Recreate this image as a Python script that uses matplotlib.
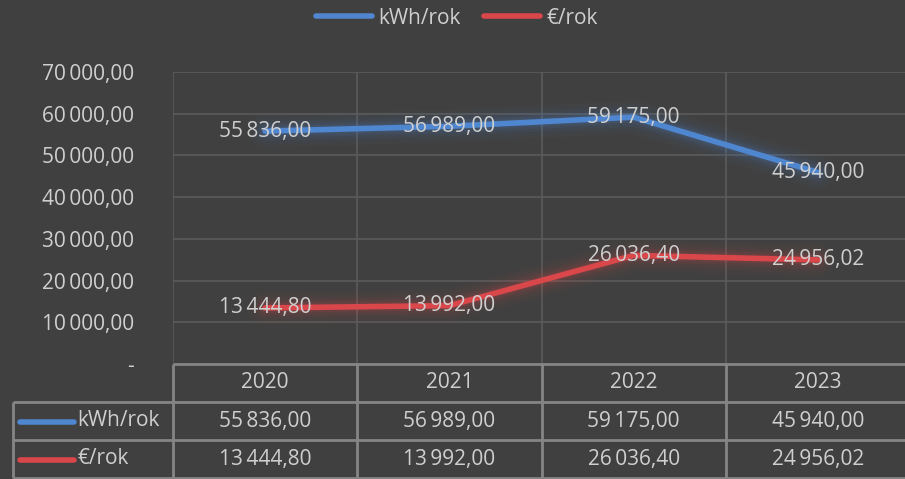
import matplotlib
matplotlib.use("Agg")
import matplotlib.pyplot as plt
from matplotlib.lines import Line2D

years = ["2020", "2021", "2022", "2023"]
kwh = [55836.00, 56989.00, 59175.00, 45940.00]
eur = [13444.80, 13992.00, 26036.40, 24956.02]
series_names = ["kWh/rok", "€/rok"]
yticks = [0, 10000, 20000, 30000, 40000, 50000, 60000, 70000]

BG = "#404040"
TXT = "#cfcfcf"
GRID = "#5b5b5b"
BORDER = "#858585"
BLUE = "#4f86d0"
RED = "#d9474a"
FONT = "Open Sans"
FS = 15

W, H = 905, 479


def fmt(v):
    # thousands separated by a thin space, decimal comma
    return f"{v:,.2f}".replace(",", "\u2009").replace(".", ",")


def fx(px):
    return px / W


def fy(py):
    return 1 - py / H


fig = plt.figure(figsize=(W / 100, H / 100), dpi=100, facecolor=BG)
plt.rcParams["font.family"] = [FONT, "DejaVu Sans"]

# plot area: x 173..910 px, y 72..364 px
left, right, top, bottom = 173, 910, 72, 364
ax = fig.add_axes([fx(left), fy(bottom), fx(right - left), (bottom - top) / H])
ax.set_facecolor(BG)
x = list(range(len(years)))
ax.set_xlim(-0.5, len(years) - 0.5)
ax.set_ylim(0, 70000)

for xv in [-0.5, 0.5, 1.5, 2.5, 3.5]:
    ax.axvline(xv, color=GRID, lw=1.2, zorder=1)
for yv in yticks[1:]:
    ax.axhline(yv, color=GRID, lw=1.2, zorder=1)

for vals, col in [(kwh, BLUE), (eur, RED)]:
    # soft glow
    for lw, a in [(24, 0.03), (19, 0.04), (14, 0.06), (10, 0.08), (7, 0.1)]:
        ax.plot(x, vals, color=col, lw=lw, alpha=a, solid_capstyle="round",
                solid_joinstyle="round", zorder=2)
    ax.plot(x, vals, color=col, lw=4, solid_capstyle="round",
            solid_joinstyle="round", zorder=3)
    for xi, v in zip(x, vals):
        ax.text(xi, v, fmt(v), ha="center", va="center", color=TXT,
                fontsize=FS, zorder=4)

ax.set_xticks([])
ax.set_yticks(yticks)
ax.set_yticklabels(["-"] + [fmt(v) for v in yticks[1:]])
ax.tick_params(axis="y", length=0, pad=28, labelsize=FS, labelcolor=TXT)
for s in ax.spines.values():
    s.set_visible(False)

# data table below
tab = fig.add_axes([0, 0, 1, 1], facecolor="none")
tab.set_xlim(0, W)
tab.set_ylim(H, 0)
tab.axis("off")
col_w = (right - left) / len(years)
rows = [364, 402, 440, 478]
lk = dict(color=BORDER, lw=2, solid_capstyle="butt")
tab.plot([left, W], [rows[0], rows[0]], **lk)
for r in rows[1:]:
    tab.plot([13, W], [r, r], **lk)
tab.plot([13, 13], [rows[1], rows[3]], **lk)
for i in range(len(years) + 1):
    xc = left + i * col_w
    tab.plot([xc, xc], [rows[0], rows[3]], **lk)

for i, yr in enumerate(years):
    xc = left + (i + 0.5) * col_w
    tab.text(xc, (rows[0] + rows[1]) / 2, yr, ha="center", va="center",
             color=TXT, fontsize=FS)
    tab.text(xc, (rows[1] + rows[2]) / 2, fmt(kwh[i]), ha="center",
             va="center", color=TXT, fontsize=FS)
    tab.text(xc, (rows[2] + rows[3]) / 2, fmt(eur[i]), ha="center",
             va="center", color=TXT, fontsize=FS)

for ri, (name, col) in enumerate(zip(series_names, [BLUE, RED])):
    yc = (rows[ri + 1] + rows[ri + 2]) / 2
    tab.plot([20, 74], [yc + 1, yc + 1], color=col, lw=4, solid_capstyle="round")
    tab.text(77, yc, name, ha="left", va="center", color=TXT, fontsize=FS)

# legend
handles = [Line2D([], [], color=BLUE, lw=4, solid_capstyle="round"),
           Line2D([], [], color=RED, lw=4, solid_capstyle="round")]
leg = fig.legend(handles, series_names, loc="center", ncol=2,
                 bbox_to_anchor=(fx(457), fy(18)), frameon=False,
                 fontsize=FS, handlelength=2.7, handletextpad=0.3,
                 columnspacing=1.1)
for t in leg.get_texts():
    t.set_color(TXT)

fig.savefig("out.png", dpi=100, facecolor=BG)
